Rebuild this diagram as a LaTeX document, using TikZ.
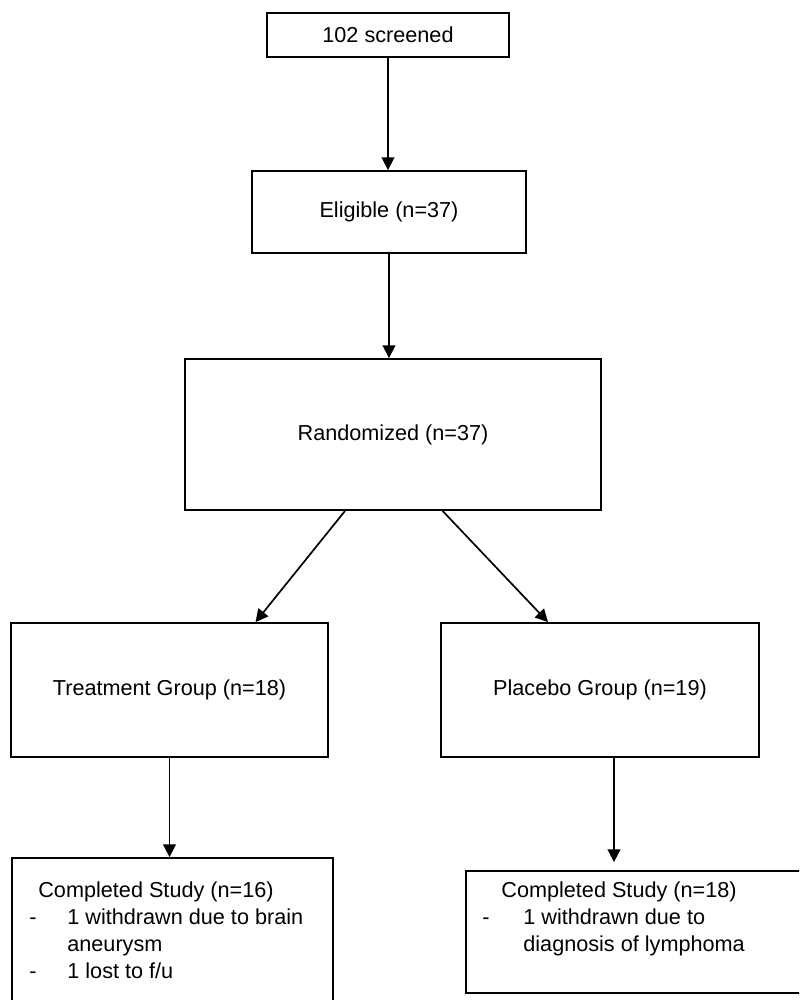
\documentclass[tikz,border=0pt]{standalone}
\usepackage{fontspec}
\setmainfont{Liberation Sans}
\usepackage{tikz}
\usetikzlibrary{arrows.meta,calc}

\begin{document}
\begin{tikzpicture}[
  flowbox/.style={draw,line width=1.3pt,inner sep=0pt,font=\fontsize{15.4}{19.2}\selectfont},
  flowtext/.style={inner sep=0pt,align=left,anchor=north west,font=\fontsize{15.4}{19.2}\selectfont},
  flowarrow/.style={line width=1.2pt,-{Triangle[length=9pt,width=9pt]}}]
  \clip (0,0) rectangle (19.975,-25);
  \node[flowbox,minimum width=6.05cm,minimum height=1.1cm] (screen) at (9.7,-0.875) {102 screened};
  \node[flowbox,minimum width=6.85cm,minimum height=2.05cm] (elig) at (9.725,-5.3) {Eligible (n=37)};
  \node[flowbox,minimum width=10.4cm,minimum height=3.775cm] (rand) at (9.825,-10.8625) {Randomized (n=37)};
  \node[flowbox,minimum width=7.925cm,minimum height=3.35cm] (treat) at (4.2375,-17.25) {Treatment Group (n=18)};
  \node[flowbox,minimum width=7.95cm,minimum height=3.35cm] (plac) at (15,-17.25) {Placebo Group (n=19)};
  \node[flowbox,minimum width=8.025cm,minimum height=4.3cm] (compL) at (4.3125,-23.6) {};
  \node[flowbox,minimum width=9.1cm,minimum height=3.05cm] (compR) at (16.2,-23.3) {};
  \node[flowtext] (compLtext) at ($(compL.north west)+(0.45,-0.6)$)
    {\hspace*{0.225cm}Completed Study (n=16)\\
     \makebox[0.95cm][l]{-}1 withdrawn due to brain\\
     \hspace*{0.95cm}aneurysm\\
     \makebox[0.95cm][l]{-}1 lost to f/u};
  \node[flowtext] (compRtext) at ($(compR.north west)+(0.425,-0.275)$)
    {\hspace*{0.475cm}Completed Study (n=18)\\
     \makebox[1.025cm][l]{-}1 withdrawn due to\\
     \hspace*{1.025cm}diagnosis of lymphoma};
  \coordinate (placout) at ($(plac.south)+(0.35,0)$);
  \draw[flowarrow] (screen.south) -- (screen.south |- elig.north);
  \draw[flowarrow] (elig.south) -- (elig.south |- rand.north);
  \draw[flowarrow] ($(rand.south)+(-1.2,0)$) -- ($(treat.north)+(2.15,0)$);
  \draw[flowarrow] ($(rand.south)+(1.24,0)$) -- ($(plac.north)+(-1.3,0)$);
  \draw[flowarrow] (treat.south) -- (treat.south |- compL.north);
  \draw[flowarrow,shorten >=0.2cm] (placout) -- (placout |- compR.north);
\end{tikzpicture}
\end{document}
